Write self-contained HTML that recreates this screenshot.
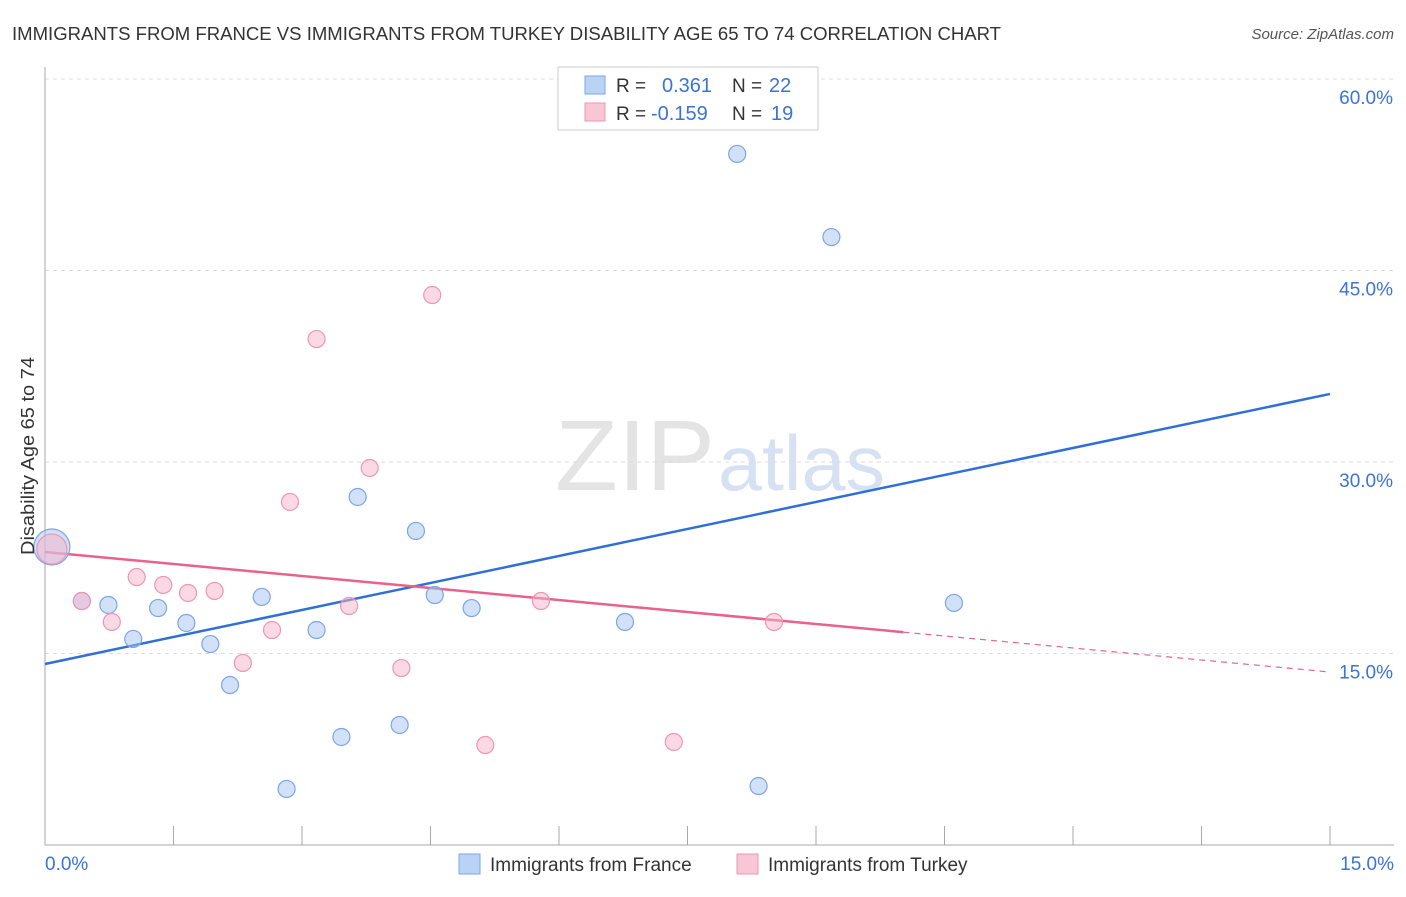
<!DOCTYPE html>
<html><head><meta charset="utf-8"><style>
body{margin:0;background:#fff;font-family:"Liberation Sans",sans-serif;}
svg text{font-family:"Liberation Sans",sans-serif;}
</style></head><body>
<svg id="chart" width="1406" height="892" xmlns="http://www.w3.org/2000/svg">
<text x="12" y="40" font-size="18" fill="#333" textLength="989" lengthAdjust="spacingAndGlyphs">IMMIGRANTS FROM FRANCE VS IMMIGRANTS FROM TURKEY DISABILITY AGE 65 TO 74 CORRELATION CHART</text>
<text x="1394" y="39" font-size="15" fill="#555" text-anchor="end" font-style="italic">Source: ZipAtlas.com</text>
<text x="555" y="490" font-size="100" fill="#e4e4e4" textLength="160" lengthAdjust="spacingAndGlyphs" font-family="Liberation Serif">ZIP</text>
<text x="718" y="490" font-size="78" fill="#d6e2f3" textLength="167" lengthAdjust="spacingAndGlyphs">atlas</text>
<g id="grid"></g>
<g id="axes"></g>
<g id="trends"></g>
<g id="points"></g>
<text transform="translate(34,456) rotate(-90)" font-size="18" fill="#333" text-anchor="middle" textLength="198" lengthAdjust="spacingAndGlyphs">Disability Age 65 to 74</text>
<g>
<rect x="558" y="67" width="260" height="63" fill="#fff" stroke="#ccc"/>
<rect x="585" y="76" width="20" height="18" fill="#b9d3f5" stroke="#7aa7e6"/>
<rect x="585" y="103" width="20" height="18" fill="#f9c6d6" stroke="#ec97b3"/>
<text x="616" y="92" font-size="19" fill="#333">R =</text>
<text x="662" y="92" font-size="20" fill="#3b73d6">0.361</text>
<text x="732" y="92" font-size="19" fill="#333">N =</text>
<text x="769" y="92" font-size="20" fill="#3b73d6">22</text>
<text x="616" y="120" font-size="19" fill="#333">R =</text>
<text x="651" y="120" font-size="20" fill="#3b73d6">-0.159</text>
<text x="732" y="120" font-size="19" fill="#333">N =</text>
<text x="771" y="120" font-size="20" fill="#3b73d6">19</text>
</g>
<g>
<rect x="459" y="854" width="21" height="20" fill="#b9d3f5" stroke="#7aa7e6"/>
<text x="490" y="871" font-size="19" fill="#333">Immigrants from France</text>
<rect x="737" y="854" width="21" height="20" fill="#f9c6d6" stroke="#ec97b3"/>
<text x="768" y="871" font-size="19" fill="#333">Immigrants from Turkey</text>
</g>
</svg>
<script>
const franceX=[0.08,0.43,0.74,1.03,1.32,1.65,1.93,2.16,2.53,2.82,3.17,3.46,3.65,4.14,4.33,4.55,4.98,6.77,8.08,8.33,9.18,10.61];
const franceY=[23.34,19.11,18.80,16.14,18.56,17.39,15.74,12.53,19.43,4.39,16.84,8.46,27.26,9.40,24.60,19.58,18.56,17.47,54.13,4.62,47.62,18.96];
const turkeyX=[0.08,0.43,0.78,1.07,1.38,1.67,1.98,2.31,2.65,2.86,3.17,3.55,3.79,4.16,4.52,5.14,5.79,7.34,8.51];
const turkeyY=[23.18,19.11,17.47,20.99,20.37,19.74,19.90,14.26,16.84,26.87,39.63,18.72,29.53,13.86,43.08,7.83,19.11,8.07,17.47];
const yTicks=[15,30,45,60];
const yTickLabels=["15.0%","30.0%","45.0%","60.0%"];
const xTicks=[0,1.5,3,4.5,6,7.5,9,10.5,12,13.5,15];
const franceTrend=[14.18,35.33];
const turkeyTrend=[22.95,13.55];
const turkeySolidEnd=10.02;
const NS="http://www.w3.org/2000/svg";
const sx=v=>45+v/15*1285;
const sy=v=>845-v/60*766;
function mk(tag,attrs,parent){const e=document.createElementNS(NS,tag);for(const k in attrs)e.setAttribute(k,attrs[k]);document.getElementById(parent).appendChild(e);return e;}
yTicks.forEach((t,i)=>{
 const g=mk('line',{x1:45,x2:1394,y1:sy(t),y2:sy(t),stroke:'#ddd','stroke-dasharray':'4,4'},'grid');
 
 
 const l=mk('text',{x:1393,y:sy(t)+25,'font-size':19,fill:'#3b73d6','text-anchor':'end'},'grid');
 l.textContent=yTickLabels[i];
 
 
});
const ya=mk('line',{x1:45,x2:45,y1:67,y2:845,stroke:'#aaa'},'axes');


const xa=mk('line',{x1:45,x2:1394,y1:845,y2:845,stroke:'#aaa'},'axes');


xTicks.forEach(t=>{const k=mk('line',{x1:sx(t),x2:sx(t),y1:826,y2:845,stroke:'#aaa'},'axes');
 
 });
const x0=mk('text',{x:45,y:870,'font-size':19,fill:'#3b73d6'},'axes');x0.textContent='0.0%';


const x1=mk('text',{x:1394,y:870,'font-size':19,fill:'#3b73d6','text-anchor':'end'},'axes');x1.textContent='15.0%';


function dot(x,y,r,fill,stroke,name){const c=mk('circle',{cx:sx(x),cy:sy(y),r:r,fill:fill,stroke:stroke,'stroke-width':1.2},'points');
 
 }
franceX.forEach((x,i)=>dot(x,franceY[i],i===0?18:8.5,'rgba(165,196,240,0.5)','#7aa7e6','france-point'));
turkeyX.forEach((x,i)=>dot(x,turkeyY[i],i===0?15:8.5,'rgba(246,180,202,0.5)','#ec97b3','turkey-point'));
const bt=mk('line',{x1:sx(0),y1:sy(franceTrend[0]),x2:sx(15),y2:sy(franceTrend[1]),stroke:'#2f6fd6','stroke-width':2.5},'trends');


const ty=x=>turkeyTrend[0]+(turkeyTrend[1]-turkeyTrend[0])*x/15;
const pt=mk('line',{x1:sx(0),y1:sy(ty(0)),x2:sx(turkeySolidEnd),y2:sy(ty(turkeySolidEnd)),stroke:'#e8628c','stroke-width':2.5},'trends');


const pd=mk('line',{x1:sx(turkeySolidEnd),y1:sy(ty(turkeySolidEnd)),x2:sx(15),y2:sy(ty(15)),stroke:'#e8628c','stroke-width':1.2,'stroke-dasharray':'6,5'},'trends');


</script>
</body></html>
